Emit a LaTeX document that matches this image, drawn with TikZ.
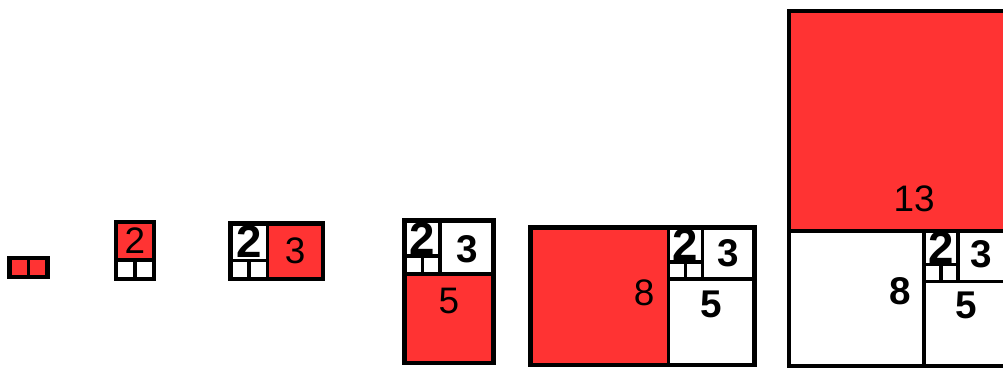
\documentclass[tikz,border=0pt]{standalone}
\usepackage{fontspec}
\setsansfont{Liberation Sans}
\usepackage{xcolor}
\definecolor{fibred}{RGB}{255,51,51}
\tikzset{
  redsq/.style={fill=fibred, draw=black, line width=2pt},
  whitesq/.style={fill=white, draw=black, line width=2pt},
  outline/.style={draw=black, line width=2.6pt},
  thinnum/.style={font=\sffamily\fontsize{21}{21}\selectfont, inner sep=0pt},
  boldnum/.style={font=\sffamily\bfseries\fontsize{22}{22}\selectfont, inner sep=0pt},
  twonum/.style={font=\sffamily\bfseries\fontsize{26}{26}\selectfont, inner sep=0pt}
}
% the 2x2 square with its two 1x1 squares below
\newcommand{\twoblock}[3]{%
  \draw[whitesq] (#1,#2) rectangle ++(1,1);
  \draw[whitesq] (#1+1,#2) rectangle ++(1,1);
  \draw[whitesq] (#1,#2+1) rectangle ++(2,2);
  \node[twonum] (#3) at (#1+1,#2+2) {2};
}
\begin{document}
\begin{tikzpicture}[x=0.02cm, y=0.02cm]
\useasboundingbox (0,0) rectangle (1003,369);
\clip (0,0) rectangle (1003,369);

% 1 1
\begin{scope}[shift={(9.5,92)}, scale=19]
\draw[redsq] (0,0) rectangle (1,1);
\draw[redsq] (1,0) rectangle (2,1);
\draw[outline] (0,0) rectangle (2,1);
\end{scope}

% 2
\begin{scope}[shift={(116,90)}, scale=19]
\draw[whitesq] (0,0) rectangle (1,1);
\draw[whitesq] (1,0) rectangle (2,1);
\draw[redsq] (0,1) rectangle (2,3);
\draw[outline] (0,0) rectangle (2,3);
\node[thinnum] (twoA) at (1,2) {2};
\end{scope}

% 3
\begin{scope}[shift={(230.5,90)}, scale=18.5]
\twoblock{0}{0}{twoB}
\draw[redsq] (2,0) rectangle (5,3);
\draw[outline] (0,0) rectangle (5,3);
\node[thinnum] (threeA) at (3.5,1.5) {3};
\end{scope}

% 5
\begin{scope}[shift={(404.5,6)}, scale=17.8]
\draw[redsq] (0,0) rectangle (5,5);
\twoblock{0}{5}{twoC}
\draw[whitesq] (2,5) rectangle (5,8);
\draw[outline] (0,0) rectangle (5,8);
\node[thinnum] (fiveA) at (2.5,3.5) {5};
\node[boldnum] (threeB) at (3.5,6.4) {3};
\end{scope}

% 8
\begin{scope}[shift={(530.7,4)}, scale=17.2]
\draw[redsq] (0,0) rectangle (8,8);
\draw[whitesq] (8,0) rectangle (13,5);
\twoblock{8}{5}{twoD}
\draw[whitesq] (10,5) rectangle (13,8);
\draw[outline] (0,0) rectangle (13,8);
\node[thinnum] (eightA) at (6.6,4.2) {8};
\node[boldnum] (fiveB) at (10.5,3.5) {5};
\node[boldnum] (threeC) at (11.5,6.5) {3};
\end{scope}

% 13
\begin{scope}[shift={(789,3)}, scale=16.9]
\draw[whitesq] (0,0) rectangle (8,8);
\draw[whitesq] (8,0) rectangle (13,5);
\twoblock{8}{5}{twoE}
\draw[whitesq] (10,5) rectangle (13,8);
\draw[redsq] (0,8) rectangle (13,21);
\draw[outline] (0,0) rectangle (13,21);
\draw[outline] (0,8) -- (13,8);
\node[thinnum] (thirteen) at (7.4,9.9) {13};
\node[boldnum] (eightB) at (6.6,4.4) {8};
\node[boldnum] (fiveC) at (10.5,3.6) {5};
\node[boldnum] (threeD) at (11.4,6.6) {3};
\end{scope}
\end{tikzpicture}
\end{document}
